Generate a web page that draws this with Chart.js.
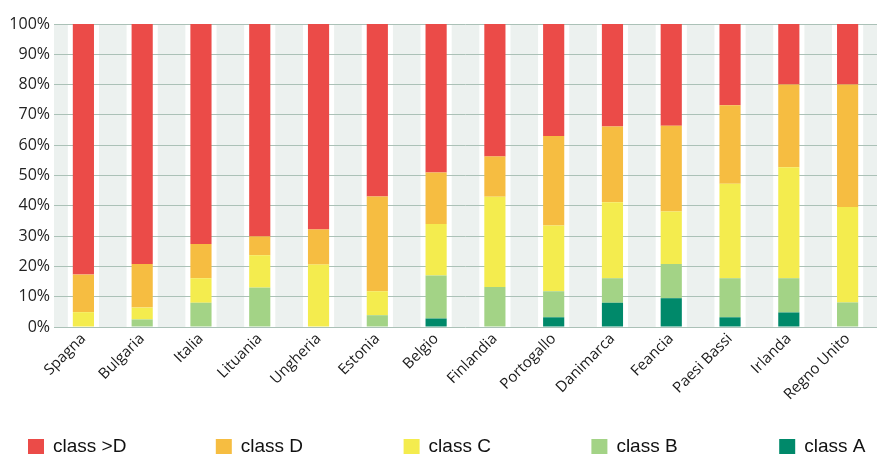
<!DOCTYPE html>
<html>
<head>
<meta charset="utf-8">
<script src="https://cdn.jsdelivr.net/npm/chart.js@4/dist/chart.umd.min.js"></script>
<style>
  html, body { margin: 0; padding: 0; background: #ffffff; }
  #wrap { width: 877px; height: 462px; }
</style>
</head>
<body>
<div id="wrap"><canvas id="c" width="877" height="462"></canvas></div>
<script>
// Countries (x axis)
const categories = ['Spagna', 'Bulgaria', 'Italia', 'Lituania', 'Ungheria', 'Estonia', 'Belgio',
  'Finlandia', 'Portogallo', 'Danimarca', 'Feancia', 'Paesi Bassi', 'Irlanda', 'Regno Unito'];

// Share of each class per country, in percent (stacked from class A upwards)
const classA     = [0,    0,    0,    0,    0,    0,    2.8,  0,    3.2,  8,    9.5,  3.2,  4.8,  0];
const classB     = [0,    2.5,  8,    13,   0,    3.9,  14.2, 13.2, 8.6,  8.1,  11.3, 12.9, 11.3, 8.1];
const classC     = [4.9,  3.9,  8.1,  10.7, 20.6, 7.9,  17,   29.8, 21.7, 25.1, 17.3, 31.2, 36.6, 31.5];
const classD     = [12.4, 14.4, 11.3, 6.2,  11.6, 31.3, 17,   13.3, 29.5, 25,   28.3, 25.9, 27.3, 40.4];
const classOverD = [82.7, 79.2, 72.6, 70.1, 67.8, 56.9, 49,   43.7, 37,   33.8, 33.6, 26.8, 20,   20];

// Y axis tick values
const yTicks = [0, 10, 20, 30, 40, 50, 60, 70, 80, 90, 100];

const seriesNames = ['class A', 'class B', 'class C', 'class D', 'class >D'];
const seriesValues = [classA, classB, classC, classD, classOverD];
const seriesColors = ['#00896A', '#A3D386', '#F4EC4E', '#F6BD41', '#EB4B48'];

// Light bands behind the plot, with a white strip around each bar column
const bandsPlugin = {
  id: 'bands',
  beforeDraw(chart) {
    const { ctx, chartArea: a } = chart;
    ctx.save();
    ctx.fillStyle = '#ECF1EF';
    ctx.fillRect(a.left, a.top, a.right - a.left, a.bottom - a.top);
    ctx.fillStyle = '#ffffff';
    chart.getDatasetMeta(0).data.forEach(bar => {
      const w = bar.width + 10;
      ctx.fillRect(bar.x - w / 2, a.top, w, a.bottom - a.top);
    });
    ctx.restore();
  }
};

// Evenly spaced legend row along the bottom, top class first
const legendRowPlugin = {
  id: 'legendRow',
  afterDraw(chart) {
    const { ctx } = chart;
    const items = chart.data.datasets.slice().reverse();
    const startX = 28, step = 187.8, boxTop = 439, box = 16, boxH = 15;
    ctx.save();
    ctx.font = '19px "Liberation Sans", Arial, sans-serif';
    ctx.textBaseline = 'middle';
    ctx.textAlign = 'left';
    items.forEach((ds, i) => {
      const x = startX + i * step;
      ctx.fillStyle = ds.backgroundColor;
      ctx.fillRect(x, boxTop, box, boxH);
      ctx.fillStyle = '#111111';
      ctx.fillText(ds.label, x + 25, boxTop + boxH / 2);
    });
    ctx.restore();
  }
};

new Chart(document.getElementById('c'), {
  type: 'bar',
  data: {
    labels: categories,
    datasets: seriesNames.map((name, i) => ({
      label: name,
      data: seriesValues[i],
      backgroundColor: seriesColors[i],
      borderWidth: 0,
      categoryPercentage: 1,
      barPercentage: 0.36
    }))
  },
  options: {
    responsive: false,
    devicePixelRatio: 1,
    animation: false,
    layout: { padding: { top: 24, right: 0, bottom: 0, left: 0 } },
    plugins: {
      legend: { display: false },
      tooltip: { enabled: false }
    },
    scales: {
      x: {
        stacked: true,
        grid: { display: false, drawTicks: false },
        border: { display: false },
        ticks: {
          minRotation: 45,
          maxRotation: 45,
          autoSkip: false,
          padding: 3,
          color: '#1a1a1a',
          font: { family: '"Open Sans", sans-serif', size: 15 }
        },
        afterFit(scale) { scale.height = 135; }
      },
      y: {
        stacked: true,
        min: 0,
        max: 100,
        afterBuildTicks(scale) { scale.ticks = yTicks.map(v => ({ value: v })); },
        grid: { color: '#ABC1B7', lineWidth: 1, drawTicks: false },
        border: { display: false },
        ticks: {
          padding: 4,
          color: '#222222',
          font: { family: '"Open Sans", sans-serif', size: 16 },
          callback: v => v + '%'
        },
        afterFit(scale) { scale.width = 54; }
      }
    }
  },
  plugins: [bandsPlugin, legendRowPlugin]
});
</script>
</body>
</html>
